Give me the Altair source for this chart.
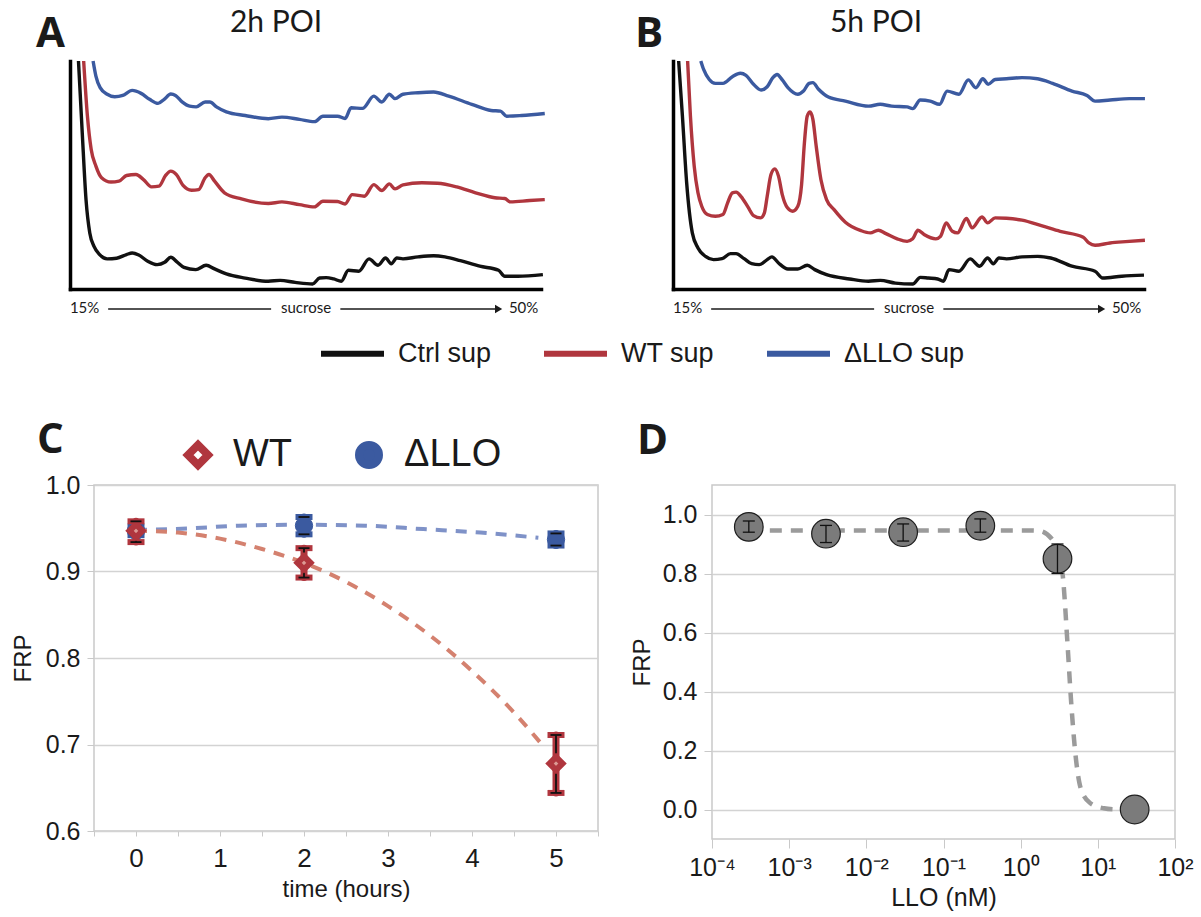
import altair as alt
import pandas as pd

FONT = "Liberation Sans"
TITLE_FONT = "Lato"
LETTER_FONT = "Open Sans"
INK = "#1a1a1a"
FRAME = "#c9c9c9"
GRID = "#d3d3d3"
RED = "#b0363e"
BLUE = "#3b5aa0"

# ---------------- Panels A / B: gradient traces (x: % of gradient, y: % of panel height)
SERIES = ["Ctrl sup", "WT sup", "ΔLLO sup"]
SERIES_COLORS = ["#111111", RED, BLUE]

A_ctrl_x = [1.8, 2.6, 3.4, 4.2, 5.1, 6.3, 7.9, 9.9, 12.0, 13.2, 14.6, 16.5, 18.5, 20.1, 21.4, 22.7, 24.2, 26.7, 28.9, 30.7,
            33.2, 37.2, 42.1, 44.6, 47.8, 51.5, 53.0, 54.4, 56.0, 57.6, 59.1, 61.3, 63.5, 65.4, 67.0, 68.2, 69.4, 70.7, 73.9, 77.2,
            79.6, 82.9, 87.0, 91.0, 92.3, 95.1, 100.4]
A_ctrl_y = [100, 68.5, 39.2, 24.6, 18.7, 15.1, 13.2, 13.5, 15.1, 15.8, 14.9, 12.2, 10.7, 11.7, 13.9, 11.9, 9.5, 8.5, 10.4, 8.8,
            6.6, 4.8, 3.4, 3.8, 2.9, 2.2, 4.8, 5.0, 4.4, 3.4, 8.2, 7.8, 13.2, 10.4, 13.6, 11.1, 13.6, 13.2, 14.1, 14.6,
            14.1, 12.4, 10.0, 8.2, 5.6, 5.6, 6.3]
A_wt_x = [2.9, 3.7, 4.5, 5.5, 6.7, 8.7, 10.4, 12.0, 14.0, 15.6, 17.3, 18.9, 20.3, 21.4, 22.6, 24.0, 25.8, 27.3, 28.7, 29.5,
          30.7, 32.8, 36.4, 42.1, 45.0, 48.7, 51.9, 53.7, 56.8, 58.4, 59.9, 62.5, 64.5, 66.2, 67.8, 69.0, 70.7, 74.7, 78.0, 82.1,
          86.1, 90.2, 92.3, 93.5, 97.6, 100.8]
A_wt_y = [100, 75.8, 61.2, 53.9, 48.8, 46.9, 47.3, 49.8, 50.2, 48.0, 44.8, 45.1, 49.8, 51.7, 50.2, 45.4, 43.3, 43.6, 48.8, 50.2,
          47.3, 42.2, 39.5, 37.5, 38.2, 37.0, 36.0, 38.5, 38.4, 37.3, 41.4, 40.7, 45.8, 43.2, 46.1, 43.9, 45.7, 46.6, 46.4, 44.8,
          42.2, 40.0, 39.7, 38.2, 38.8, 39.2]
A_dllo_x = [4.9, 5.5, 6.4, 7.9, 9.5, 11.2, 13.2, 15.1, 16.9, 18.7, 20.0, 21.4, 22.4, 23.8, 25.4, 26.8, 28.7, 29.7, 31.1, 33.2,
            37.2, 42.1, 45.0, 48.7, 51.9, 53.7, 56.8, 58.4, 59.7, 62.1, 64.5, 66.2, 67.8, 69.0, 70.7, 73.9, 77.2, 80.4, 85.3, 89.4,
            91.4, 92.7, 95.9, 100.8]
A_dllo_y = [100, 93.4, 88.3, 85.4, 84.3, 84.9, 87.1, 85.8, 83.2, 81.4, 83.2, 85.5, 84.9, 82.1, 80.2, 79.9, 82.0, 82.0, 79.9, 77.7,
            76.1, 74.7, 75.4, 74.4, 73.4, 75.8, 75.8, 74.8, 79.5, 79.2, 84.6, 82.0, 85.4, 83.5, 85.4, 86.1, 86.4, 84.6, 81.0, 78.3,
            78.0, 75.8, 76.1, 77.0]

B_ctrl_x = [1.2, 2.0, 2.9, 4.1, 5.3, 6.9, 8.6, 10.4, 12.2, 13.4, 15.1, 16.7, 18.3, 20.0, 21.0, 22.4, 24.4, 26.5, 28.5, 30.1,
            32.6, 37.5, 41.5, 44.0, 47.2, 50.9, 52.5, 54.2, 56.2, 57.4, 58.6, 60.7, 63.1, 65.1, 66.8, 68.0, 69.2, 70.8, 74.1, 77.4,
            80.2, 84.7, 89.6, 91.2, 95.3, 100.0]
B_ctrl_y = [100, 75.8, 46.6, 24.6, 18.0, 14.3, 12.9, 13.3, 15.5, 15.5, 13.3, 11.1, 10.7, 12.9, 14.1, 11.4, 8.8, 8.8, 10.4, 8.5,
            6.3, 4.4, 3.4, 3.8, 2.6, 2.2, 5.1, 4.8, 4.4, 3.4, 8.5, 7.8, 13.2, 10.0, 13.6, 11.1, 13.6, 13.2, 14.1, 14.3,
            13.6, 10.0, 7.8, 4.8, 5.6, 6.1]
B_wt_x = [3.1, 3.7, 4.5, 5.3, 6.1, 7.3, 9.0, 10.6, 11.6, 12.6, 13.4, 14.5, 15.9, 17.1, 18.6, 19.4, 20.0, 20.8, 21.6, 22.4,
          23.2, 24.3, 25.4, 26.5, 27.3, 27.9, 28.5, 29.1, 29.7, 30.4, 31.4, 32.6, 34.2, 36.6, 39.9, 41.9, 43.6, 45.2, 47.6, 49.7,
          50.9, 52.0, 53.3, 55.8, 56.8, 58.0, 59.3, 60.4, 62.3, 63.5, 65.6, 66.8, 68.4, 70.8, 74.1, 78.2, 82.2, 87.1, 88.3, 89.6,
          92.8, 96.1, 100.2]
B_wt_y = [100, 75.8, 53.9, 42.2, 36.3, 32.7, 31.9, 32.7, 37.8, 42.2, 42.5, 40.4, 36.0, 32.2, 31.2, 33.4, 40.7, 50.2, 52.7, 49.5,
          41.4, 35.6, 34.1, 36.3, 45.8, 64.1, 75.8, 77.6, 74.4, 62.7, 48.0, 39.2, 34.8, 29.3, 25.6, 24.6, 25.8, 24.3, 22.0, 20.9,
          22.0, 25.8, 23.9, 22.0, 23.1, 29.0, 25.3, 24.6, 30.9, 26.8, 31.6, 29.0, 31.2, 31.0, 30.2, 27.8, 25.3, 22.7, 20.2, 19.2,
          20.2, 20.8, 21.4]
B_dllo_x = [5.9, 6.5, 7.7, 9.0, 10.6, 12.6, 14.3, 15.5, 17.1, 18.7, 20.0, 21.2, 22.1, 23.2, 24.4, 26.5, 27.7, 28.9, 29.7, 30.9,
            33.0, 36.6, 41.5, 44.0, 46.4, 49.7, 50.9, 52.5, 54.6, 56.6, 58.2, 60.7, 62.7, 64.3, 65.8, 66.9, 68.4, 70.8, 74.1, 77.4,
            80.6, 84.7, 87.9, 89.6, 92.8, 96.9, 100.2]
B_dllo_y = [100, 96.3, 91.9, 90.2, 90.2, 93.1, 94.6, 93.7, 89.8, 87.3, 88.7, 92.7, 94.1, 91.7, 88.3, 85.4, 86.8, 90.2, 90.5, 87.6,
            84.2, 82.4, 80.2, 81.0, 80.2, 79.9, 79.1, 82.9, 82.4, 81.0, 86.8, 85.4, 91.7, 88.3, 92.2, 89.8, 91.9, 92.2, 92.7, 92.2,
            90.2, 86.8, 84.9, 82.4, 82.9, 83.5, 83.5]

SUCROSE_LABELS = ["15%", "sucrose", "50%"]
SUCROSE_LABEL_POS = [3.0, 50.0, 96.2]
ARROW_START = [8.1, 57.4]
ARROW_END = [42.7, 90.4]
ARROW_TIP = [91.0]

# ---------------- Panel C
C_TIME = [0, 2, 5]
C_WT = [0.947, 0.910, 0.678]
C_WT_LO = [0.934, 0.893, 0.644]
C_WT_HI = [0.958, 0.927, 0.711]
C_DLLO = [0.947, 0.953, 0.937]
C_DLLO_LO = [0.942, 0.943, 0.930]
C_DLLO_HI = [0.952, 0.963, 0.944]
C_FIT_WT_T = [0, 0.5, 1.0, 1.5, 2.0, 2.5, 3.0, 3.5, 4.0, 4.5, 4.85]
C_FIT_WT_V = [0.947, 0.945, 0.938, 0.926, 0.910, 0.888, 0.860, 0.826, 0.785, 0.737, 0.698]
C_FIT_DLLO_T = [0, 0.67, 1.22, 2.0, 2.73, 3.42, 4.1, 4.79]
C_FIT_DLLO_V = [0.948, 0.950, 0.953, 0.954, 0.953, 0.949, 0.945, 0.939]
C_LEGEND = ["WT", "ΔLLO"]
C_TICKS = [-0.5, 0, 0.5, 1, 1.5, 2, 2.5, 3, 3.5, 4, 4.5, 5, 5.5]

# ---------------- Panel D
D_CONC = [3e-4, 3e-3, 3e-2, 3e-1, 3.0, 30.0]
D_FRP = [0.958, 0.935, 0.940, 0.962, 0.850, 0.0]
D_LO = [0.940, 0.905, 0.910, 0.940, 0.800, 0.0]
D_HI = [0.978, 0.963, 0.968, 0.985, 0.900, 0.0]
D_FIT_C = [3e-4, 1e-3, 1e-2, 1e-1, 1.0, 1.7, 2.54, 3.2, 3.58, 4.03, 4.51, 5.04, 6.0, 8.0, 12.0, 17.0]
D_FIT_V = [0.946, 0.946, 0.946, 0.946, 0.946, 0.945, 0.917, 0.872, 0.770, 0.568, 0.365, 0.207, 0.072, 0.021, 0.004, 0.0]
D_TICKS = [1e-4, 1e-3, 1e-2, 1e-1, 1e0, 1e1, 1e2]


def trace_frame(parts):
    rows = []
    for name, xs, ys in parts:
        for x, y in zip(xs, ys):
            rows.append({"series": name, "pos": x, "signal": y})
    return pd.DataFrame(rows)


A_df = trace_frame([(SERIES[0], A_ctrl_x, A_ctrl_y), (SERIES[1], A_wt_x, A_wt_y), (SERIES[2], A_dllo_x, A_dllo_y)])
B_df = trace_frame([(SERIES[0], B_ctrl_x, B_ctrl_y), (SERIES[1], B_wt_x, B_wt_y), (SERIES[2], B_dllo_x, B_dllo_y)])

TW, TH = 471, 228


def text_layer(txt, x, y, size, font, weight="normal", align="left"):
    return alt.Chart(pd.DataFrame({"label": [txt]})).mark_text(
        font=font, fontSize=size, fontWeight=weight, align=align, baseline="alphabetic", color=INK
    ).encode(text="label:N", x=alt.value(x), y=alt.value(y))


def trace_panel(df, letter, letter_dx, title, title_cx, show_legend):
    label_expr = ("datum.value < 20 ? '%s' : (datum.value < 70 ? '%s' : '%s')" % tuple(SUCROSE_LABELS))
    x_enc = alt.X("pos:Q", scale=alt.Scale(domain=[0, 100], nice=False, zero=False),
                  axis=alt.Axis(values=SUCROSE_LABEL_POS, labelExpr=label_expr, domain=True, domainColor="#000000",
                                domainWidth=3.5, domainCap="square", ticks=False, tickSize=0, grid=False, title=None,
                                labelFontSize=15, labelFont=TITLE_FONT, labelPadding=11, labelFlush=False,
                                labelOverlap=False, labelColor=INK))
    y_enc = alt.Y("signal:Q", scale=alt.Scale(domain=[0, 100], nice=False, zero=False),
                  axis=alt.Axis(domain=True, domainColor="#000000", domainWidth=3.5, domainCap="square",
                                ticks=False, labels=False, grid=False, title=None))
    if show_legend:
        legend = alt.Legend(orient="none", legendX=248, legendY=258, direction="horizontal", title=None,
                            symbolType="stroke", symbolSize=3969, symbolStrokeWidth=6, labelFontSize=27,
                            labelFont=FONT, labelColor=INK, labelOffset=11, columnPadding=40, labelLimit=300)
    else:
        legend = None
    lines = alt.Chart(df).mark_line(strokeWidth=3.4, interpolate="monotone", strokeJoin="round").encode(
        x=x_enc, y=y_enc,
        color=alt.Color("series:N", scale=alt.Scale(domain=SERIES, range=SERIES_COLORS), legend=legend),
    )
    arrows = alt.Chart(pd.DataFrame({"pos": ARROW_START, "pos_end": ARROW_END})).mark_rule(
        color=INK, strokeWidth=1.6).encode(x=x_enc, x2="pos_end:Q", y=alt.value(TH + 20))
    head = alt.Chart(pd.DataFrame({"pos": ARROW_TIP})).mark_point(
        shape="triangle-right", filled=True, size=70, color=INK, opacity=1).encode(x=x_enc, y=alt.value(TH + 20))
    return alt.layer(
        lines, arrows, head,
        text_layer(letter, letter_dx, -14, 42, LETTER_FONT, weight="bold"),
        text_layer(title, title_cx, -29, 30, TITLE_FONT, align="center"),
    ).properties(width=TW, height=TH)


panel_a = trace_panel(A_df, "A", -34, "2h POI", 206, True)
panel_b = trace_panel(B_df, "B", -38, "5h POI", 203, False)
row1 = alt.hconcat(panel_a, panel_b, spacing=132, bounds="flush").resolve_scale(color="independent")

# ---------------- Panel C
CW, CH = 504, 346
C_AXIS_Y = alt.Axis(values=[0.6, 0.7, 0.8, 0.9, 1.0], format=".1f", grid=True, gridColor=GRID, gridWidth=1.5,
                    ticks=True, tickColor=FRAME, tickSize=7, domain=False, labelFontSize=25, labelPadding=7,
                    title="FRP", titleFontSize=24, titlePadding=10)
C_X = alt.X("t:Q", scale=alt.Scale(domain=[-0.5, 5.5], nice=False, zero=False),
            axis=alt.Axis(values=C_TICKS, labelExpr="datum.value % 1 == 0 ? format(datum.value, 'd') : ''",
                          grid=False, ticks=True, tickColor=FRAME, tickSize=5, domain=False, labelFontSize=26,
                          labelPadding=9, labelFlush=False, labelOverlap=False, title="time (hours)",
                          titleFontSize=24, titlePadding=6))


def cy(field):
    return alt.Y(field, scale=alt.Scale(domain=[0.6, 1.0], nice=False, zero=False), axis=C_AXIS_Y)


def c_points(vals, lo, hi):
    return pd.DataFrame({"t": C_TIME, "v": vals, "lo": lo, "hi": hi})


def c_series_layers(df, col, marker):
    bar = alt.Chart(df).mark_rule(color=col, strokeWidth=7, strokeCap="round").encode(x=C_X, y=cy("lo:Q"), y2="hi:Q")
    caps = alt.Chart(df).transform_fold(["lo", "hi"], as_=["end", "val"]).mark_tick(
        color=col, thickness=6, size=17, orient="horizontal", opacity=1).encode(x=C_X, y=cy("val:Q"))
    inner = alt.Chart(df).mark_rule(color="#111111", strokeWidth=1.8).encode(x=C_X, y=cy("lo:Q"), y2="hi:Q")
    icaps = alt.Chart(df).transform_fold(["lo", "hi"], as_=["end", "val"]).mark_tick(
        color="#111111", thickness=1.8, size=11, orient="horizontal", opacity=1).encode(x=C_X, y=cy("val:Q"))
    pts = alt.Chart(df).mark_point(**marker).encode(x=C_X, y=cy("v:Q"))
    return [bar, caps, inner, pts, icaps]


wt_df = c_points(C_WT, C_WT_LO, C_WT_HI)
dllo_df = c_points(C_DLLO, C_DLLO_LO, C_DLLO_HI)

fit_dllo = alt.Chart(pd.DataFrame({"t": C_FIT_DLLO_T, "v": C_FIT_DLLO_V})).mark_line(
    color="#7f92c8", strokeWidth=4, strokeDash=[11, 9], interpolate="monotone").encode(x=C_X, y=cy("v:Q"))
fit_wt = alt.Chart(pd.DataFrame({"t": C_FIT_WT_T, "v": C_FIT_WT_V})).mark_line(
    color="#d4816f", strokeWidth=4, strokeDash=[11, 9], interpolate="monotone").encode(x=C_X, y=cy("v:Q"))

C_LEG = alt.Legend(orient="none", legendX=85, legendY=-49, direction="horizontal", title=None, symbolSize=400,
                   symbolStrokeWidth=8, labelFontSize=38, labelFont=FONT, labelColor=INK, labelOffset=16,
                   columnPadding=50, labelLimit=300)
legend_layer = alt.Chart(pd.DataFrame({"series": C_LEGEND, "t": [0, 0], "v": [0.8, 0.8]})).transform_filter(
    "false").mark_point(filled=True, opacity=1, strokeWidth=8).encode(
    x=C_X, y=cy("v:Q"),
    shape=alt.Shape("series:N", scale=alt.Scale(domain=C_LEGEND, range=["diamond", "circle"]), legend=C_LEG),
    fill=alt.Fill("series:N", scale=alt.Scale(domain=C_LEGEND, range=["#ffffff", BLUE]), legend=C_LEG),
    stroke=alt.Stroke("series:N", scale=alt.Scale(domain=C_LEGEND, range=[RED, BLUE]), legend=C_LEG),
)

panel_c = alt.layer(
    fit_dllo, fit_wt,
    *c_series_layers(dllo_df, BLUE, dict(shape="circle", size=300, filled=True, fill=BLUE, stroke=BLUE,
                                         strokeWidth=1, opacity=1)),
    *c_series_layers(wt_df, RED, dict(shape="diamond", size=170, filled=True, fill="#dc9a94", stroke=RED,
                                      strokeWidth=6, opacity=1)),
    legend_layer,
    text_layer("C", -57, -32, 42, LETTER_FONT, weight="bold"),
).properties(width=CW, height=CH, view=alt.ViewBackground(stroke=FRAME, strokeWidth=1.5))

# ---------------- Panel D
DW, DH = 463, 354
D_LABEL_EXPR = ("datum.value < 0.0005 ? '10⁻⁴' : datum.value < 0.005 ? '10⁻³' : datum.value < 0.05 ? '10⁻²' : "
                "datum.value < 0.5 ? '10⁻¹' : datum.value < 5 ? '10⁰' : datum.value < 50 ? '10¹' : '10²'")
D_X = alt.X("c:Q", scale=alt.Scale(type="log", domain=[1e-4, 1e2], nice=False),
            axis=alt.Axis(values=D_TICKS, labelExpr=D_LABEL_EXPR, grid=False, tickColor=FRAME, tickSize=9,
                          domain=False, labelFontSize=25, labelPadding=7, labelFlush=False, labelOverlap=False,
                          title="LLO (nM)", titleFontSize=25, titlePadding=5))
D_AXIS_Y = alt.Axis(values=[0, 0.2, 0.4, 0.6, 0.8, 1.0], format=".1f", grid=True, gridColor=GRID, gridWidth=1.5,
                    tickColor=FRAME, tickSize=8, domain=False, labelFontSize=25, labelPadding=7,
                    title="FRP", titleFontSize=24, titlePadding=8)


def dy(field):
    return alt.Y(field, scale=alt.Scale(domain=[-0.1, 1.1], nice=False, zero=False), axis=D_AXIS_Y)


d_df = pd.DataFrame({"c": D_CONC, "v": D_FRP, "lo": D_LO, "hi": D_HI})
d_err_df = d_df[d_df["hi"] > d_df["lo"]]
fit_d = alt.Chart(pd.DataFrame({"c": D_FIT_C, "v": D_FIT_V})).mark_line(
    color="#9b9b9b", strokeWidth=4.5, strokeDash=[12, 9], interpolate="monotone").encode(x=D_X, y=dy("v:Q"))
pts_d = alt.Chart(d_df).mark_point(shape="circle", size=820, filled=True, fill="#7b7b7b", stroke="#1e1e1e",
                                   strokeWidth=1.2, opacity=1).encode(x=D_X, y=dy("v:Q"))
err_d = alt.Chart(d_err_df).mark_rule(color="#111111", strokeWidth=1.3).encode(x=D_X, y=dy("lo:Q"), y2="hi:Q")
caps_d = alt.Chart(d_err_df).transform_fold(["lo", "hi"], as_=["end", "val"]).mark_tick(
    color="#111111", thickness=1.3, size=12, orient="horizontal", opacity=1).encode(x=D_X, y=dy("val:Q"))

panel_d = alt.layer(
    fit_d, pts_d, err_d, caps_d,
    text_layer("D", -75, -31, 42, LETTER_FONT, weight="bold"),
).properties(width=DW, height=DH, view=alt.ViewBackground(stroke=FRAME, strokeWidth=1.5))

spacer = alt.Chart(pd.DataFrame({"s": [0]})).mark_point(opacity=0).encode(
    x=alt.X("s:Q", axis=None), y=alt.Y("s:Q", axis=None)).properties(width=24, height=10)

INDEP = dict(color="independent", shape="independent", fill="independent", stroke="independent")
row3_inner = alt.hconcat(panel_c, panel_d, spacing=114, bounds="flush").resolve_scale(**INDEP).resolve_legend(
    shape="independent", fill="independent", stroke="independent")
row3 = alt.hconcat(spacer, row3_inner, spacing=0, bounds="flush").resolve_scale(**INDEP).resolve_legend(
    shape="independent", fill="independent", stroke="independent")

chart = alt.vconcat(row1, row3, spacing=51).resolve_scale(**INDEP).resolve_legend(
    color="independent", shape="independent", fill="independent", stroke="independent").properties(
    padding={"left": 10, "top": 8, "right": 0, "bottom": 0}
).configure_view(stroke=None).configure_axis(
    labelFont=FONT, titleFont=FONT, labelColor=INK, titleColor=INK, titleFontWeight="normal"
).configure_legend(labelFont=FONT)

chart.save("out.html", embed_options={"renderer": "svg", "actions": False})
